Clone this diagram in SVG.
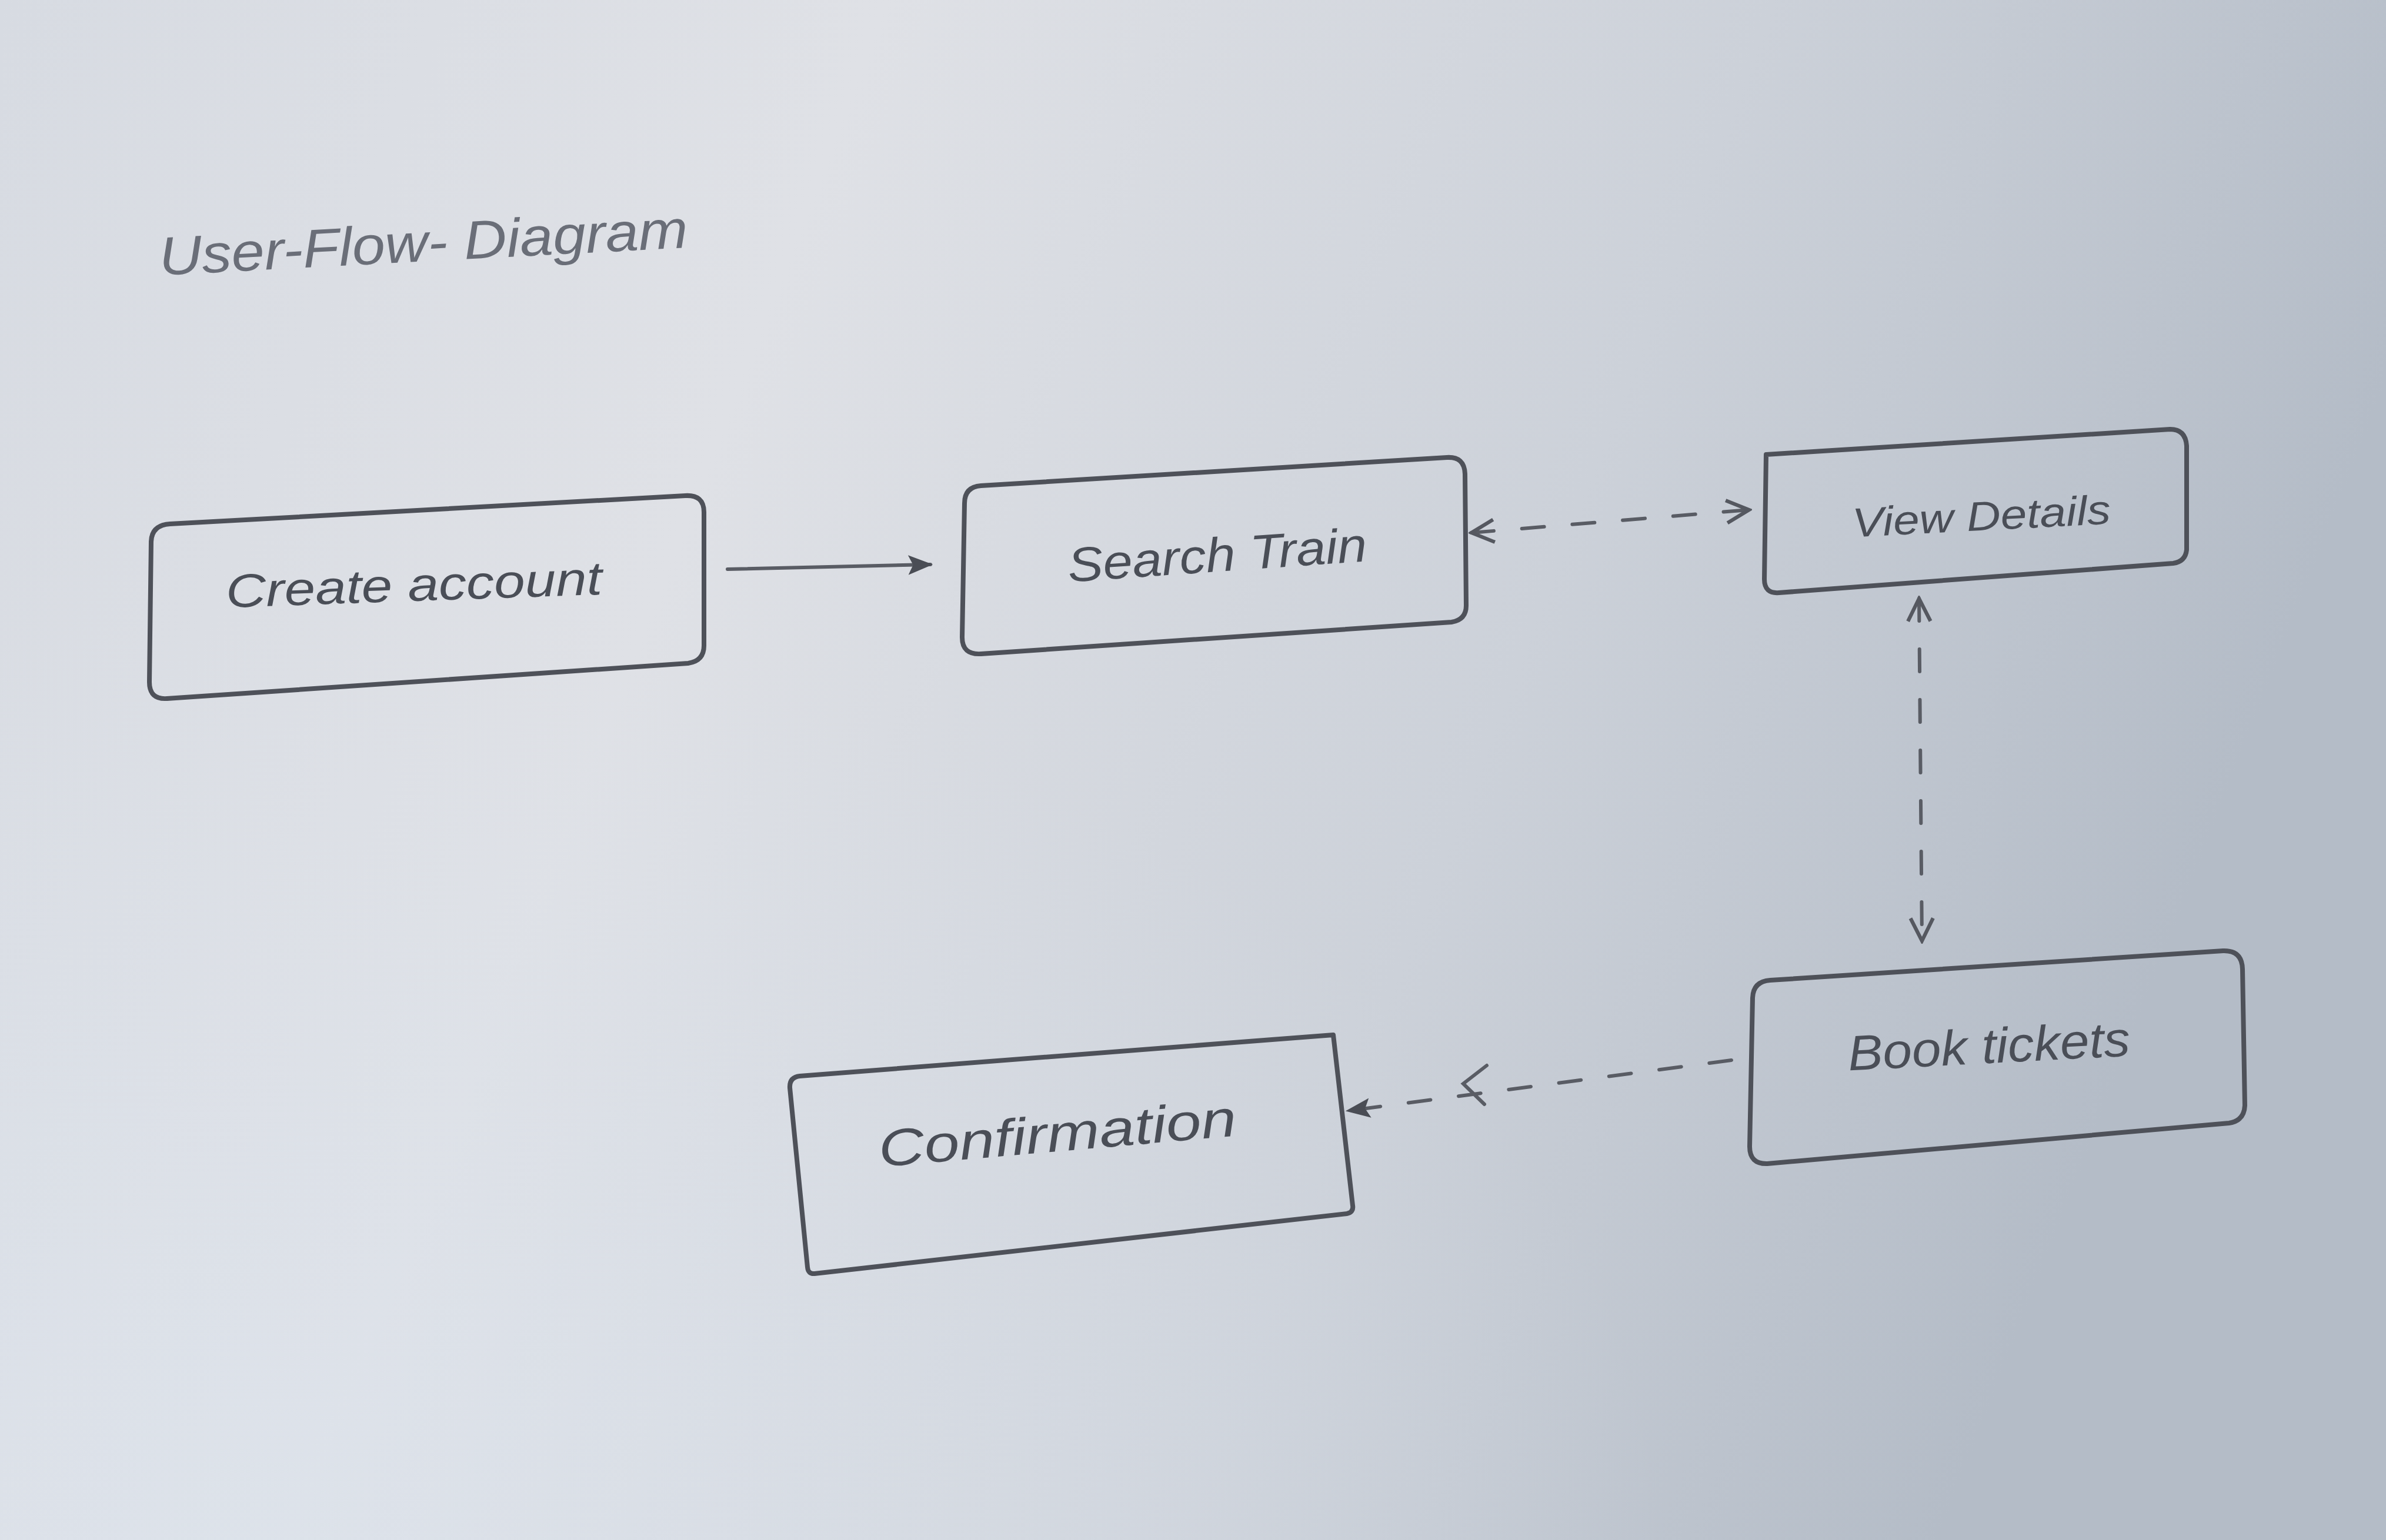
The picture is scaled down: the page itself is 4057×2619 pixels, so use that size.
<svg xmlns="http://www.w3.org/2000/svg" width="4057" height="2619" viewBox="0 0 4057 2619">
<defs>
<linearGradient id="paperH" x1="0" y1="0" x2="1" y2="0.25">
<stop offset="0" stop-color="#d7dbe2"/>
<stop offset="0.35" stop-color="#dfe1e6"/>
<stop offset="0.7" stop-color="#ccd1d9"/>
<stop offset="1" stop-color="#b4bcc7"/>
</linearGradient>
<radialGradient id="paperShade" cx="0.1" cy="1" r="0.6">
<stop offset="0" stop-color="#dce3ec" stop-opacity="0.7"/>
<stop offset="1" stop-color="#dce3ec" stop-opacity="0"/>
</radialGradient>
<marker id="solidHead" viewBox="0 0 10 10" refX="9" refY="5" markerWidth="7" markerHeight="7" markerUnits="strokeWidth" orient="auto">
<path d="M0,1 L10,5 L0,9 L2,5 Z" fill="#4a4d55"/>
</marker>
<marker id="openHead" viewBox="0 0 10 10" refX="9" refY="5" markerWidth="8" markerHeight="8" markerUnits="strokeWidth" orient="auto-start-reverse">
<path d="M1,1 L9,5 L1,9" fill="none" stroke="#555860" stroke-width="1.3"/>
</marker>
</defs>
<style>
.box{fill:none;stroke:#4e5159;stroke-width:8;stroke-linejoin:round;stroke-linecap:round}
.lbl{font-family:"Liberation Sans",Arial,sans-serif;font-style:italic;fill:#4a4e57;text-anchor:middle}
.conn{fill:none;stroke:#595c64;stroke-width:6;stroke-linecap:round}
.dash{stroke-dasharray:38 48}
</style>
<rect width="4057" height="2619" fill="url(#paperH)"/>
<rect width="4057" height="2619" fill="url(#paperShade)"/>

<g id="title">
<text x="272" y="468" font-family="Liberation Sans, Arial, sans-serif" font-style="italic" font-size="92" fill="#6a6e78" transform="rotate(-3 272 468)" textLength="900" lengthAdjust="spacingAndGlyphs">User-Flow- Diagram</text>
</g>

<g id="node-create-account">
<path class="box" d="M289,891 L1165,843 Q1197,841 1197,871 L1197,1098 Q1197,1124 1170,1128 L284,1188 Q254,1190 254,1160 L257,921 Q258,893 289,891 Z"/>
<text class="lbl" x="704" y="1022" font-size="80" transform="rotate(-2 704 1000)" textLength="640" lengthAdjust="spacingAndGlyphs">Create account</text>
</g>

<g id="node-search-train">
<path class="box" d="M1668,826 L2460,778 Q2490,776 2491,806 L2493,1030 Q2493,1054 2468,1058 L1668,1112 Q1636,1114 1636,1084 L1640,856 Q1640,828 1668,826 Z"/>
<text class="lbl" x="2070" y="972" font-size="82" transform="rotate(-4 2070 950)" textLength="510" lengthAdjust="spacingAndGlyphs">Search Train</text>
</g>

<g id="node-view-details">
<path class="box" d="M3003,773 L3690,730 Q3716,730 3718,758 L3718,935 Q3716,955 3695,958 L3025,1008 Q3000,1010 3000,985 Z"/>
<text class="lbl" x="3369" y="902" font-size="70" transform="rotate(-3 3369 880)" textLength="440" lengthAdjust="spacingAndGlyphs">View Details</text>
</g>

<g id="node-book-tickets">
<path class="box" d="M3010,1667 L3780,1617 Q3812,1616 3813,1648 L3817,1880 Q3816,1906 3790,1910 L3005,1979 Q2975,1980 2975,1950 L2980,1697 Q2981,1669 3010,1667 Z"/>
<text class="lbl" x="3382" y="1808" font-size="84" transform="rotate(-3 3382 1785)" textLength="480" lengthAdjust="spacingAndGlyphs">Book tickets</text>
</g>

<g id="node-confirmation">
<path class="box" d="M1360,1830 L2267,1760 L2300,2050 Q2302,2062 2290,2064 L1385,2166 Q1374,2167 1373,2155 L1343,1850 Q1342,1832 1360,1830 Z"/>
<text class="lbl" x="1798" y="1958" font-size="88" transform="rotate(-5 1798 1930)" textLength="610" lengthAdjust="spacingAndGlyphs">Confirmation</text>
</g>

<g id="connectors">
<path class="conn" d="M1237,968 L1582,960" marker-end="url(#solidHead)"/>
<path class="conn dash" d="M2502,906 L2974,867" marker-start="url(#openHead)" marker-end="url(#openHead)"/>
<path class="conn dash" d="M3263,1018 L3268,1600" marker-start="url(#openHead)" marker-end="url(#openHead)"/>
<path class="conn dash" d="M2944,1803 L2292,1889" marker-end="url(#solidHead)"/>
<path class="conn" d="M2528,1812 L2488,1843 L2524,1878" stroke-width="8"/>
</g>
</svg>
